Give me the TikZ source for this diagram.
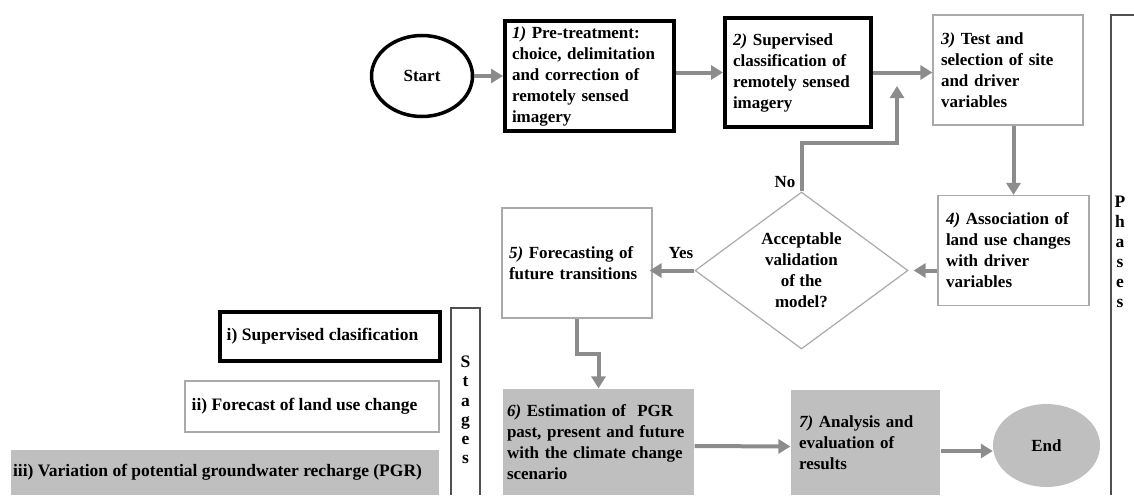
\documentclass[tikz,border=0pt]{standalone}
\usepackage{fontspec}
\setmainfont{Liberation Serif}
\usetikzlibrary{shapes.geometric,arrows.meta,calc}

\definecolor{flowgray}{RGB}{140,140,140}
\definecolor{fillgray}{RGB}{191,191,191}
\definecolor{boxgray}{RGB}{170,170,170}
\definecolor{framegray}{RGB}{80,80,80}
\hyphenpenalty=10000

\begin{document}
\begin{tikzpicture}[x=1pt,y=-1pt,
    font=\fontsize{17}{21}\selectfont\bfseries,
    procbox/.style={rectangle, draw=boxgray, line width=1.2pt, align=left,
        inner xsep=8pt, inner ysep=0pt},
    keybox/.style={procbox, draw=black, line width=4pt},
    shadebox/.style={procbox, draw=none, fill=fillgray},
    terminal/.style={ellipse, inner sep=0pt},
    decision/.style={diamond, draw=boxgray, line width=1.2pt, align=center,
        inner sep=0pt, aspect=1.36},
    legendbox/.style={rectangle, inner sep=0pt, align=center,
        font=\fontsize{17.5}{21}\selectfont\bfseries},
    frameline/.style={draw=framegray, line width=1.5pt},
    flow/.style={draw=flowgray, line width=4pt,
        -{Triangle[length=12pt,width=14pt]}}]

    \useasboundingbox (0,0) rectangle (1134,495);

    %----------------------------------------
    % PHASES (flow chart)
    %----------------------------------------
    \node[terminal, draw=black, line width=3.5pt,
          minimum width=101pt, minimum height=81pt] (start) at (422,76) {Start};

    \node[keybox, text width=155pt, inner xsep=7pt, minimum height=110pt]
        (s1) at (589.5,76)
        {\textit{1)} Pre-treatment:\\choice, delimitation\\and correction of\\remotely sensed\\imagery};
    \node[keybox, text width=130pt, minimum height=109pt] (s2) at (798,72.5)
        {\textit{2)} Supervised\\classification of\\remotely sensed\\imagery};
    \node[procbox, text width=134pt, minimum height=110pt] (s3) at (1008,70)
        {\textit{3)} Test and\\selection of site\\and driver\\variables};
    \node[procbox, text width=135pt, minimum height=110pt] (s4) at (1013.5,250.5)
        {\textit{4)} Association of\\land use changes\\with driver\\variables};
    \node[decision, minimum width=213pt, minimum height=157pt] (dec) at (801.5,270.5)
        {Acceptable\\validation\\of the\\model?};
    \node[procbox, text width=136pt, inner xsep=7pt, minimum height=110pt] (s5) at (577,263)
        {\textit{5)} Forecasting of\\future transitions};
    \node[shadebox, text width=183pt, inner xsep=4pt, minimum height=106pt] (s6) at (598.5,442)
        {\textit{6)} Estimation of~ PGR\\past, present and future\\with the climate change\\scenario};
    \node[shadebox, text width=133pt, minimum height=105pt] (s7) at (865.5,442.5)
        {\textit{7)} Analysis and\\evaluation of\\results};
    \node[terminal, fill=fillgray, minimum width=107pt, minimum height=83pt] (end) at (1046.5,445.5) {End};

    % answers of the test
    \node (nolbl) at (785,182) {No};
    \node (yeslbl) at (681,253) {Yes};
    \coordinate (nobend) at (897,143);
    \coordinate (notip) at (897,86);

    % connectors
    \draw[flow] (start.east) -- (s1.west);
    \draw[flow] (s1.east |- s2.west) -- (s2.west);
    \draw[flow] (s2.east) -- (s2.east -| s3.west);
    \draw[flow] (s4.north |- s3.south) -- (s4.north);
    \draw[flow] (s4.west |- dec.east) -- ([xshift=5pt]dec.east);
    \draw[flow] (dec.north) |- (nobend) -- (notip);
    \draw[flow, shorten >=-3pt] (dec.west) -- (dec.west -| s5.east);
    \draw[flow] (s5.south) |- ($(s5.south)!0.5!(s6.north)$) -| (s6.north);
    \draw[flow] ([yshift=-4pt]s6.east) -- ([yshift=-4pt]s7.west);
    \draw[flow] ([yshift=-8.5pt]s7.east) -- ([yshift=-5.5pt]end.west);

    % side frame
    \draw[frameline] (1111,495) |- (1134,15);
    \node[align=center, font=\fontsize{17.5}{20}\selectfont\bfseries] (phases) at (1120,252)
        {P\\h\\a\\s\\e\\s};

    %----------------------------------------
    % STAGES (key)
    %----------------------------------------
    \node[legendbox, draw=black, line width=4pt, minimum width=220pt, minimum height=49pt]
        (key1) at (330,336.5) {i) Supervised clasification\hspace*{15pt}};
    \node[legendbox, draw=boxgray, line width=1.2pt, minimum width=254pt, minimum height=51pt]
        (key2) at (312,406.5) {ii) Forecast of land use change\hspace*{15pt}};
    \node[legendbox, fill=fillgray, minimum width=428pt, minimum height=45pt]
        (key3) at (225,472.5) {iii) Variation of potential groundwater recharge (PGR)\hspace*{15pt}};

    \draw[frameline] (451,495) |- (480,308) -- (480,495);
    \node[align=center, font=\fontsize{17.5}{19.2}\selectfont\bfseries] (stages) at (465.5,410)
        {S\\t\\a\\g\\e\\s};

\end{tikzpicture}
\end{document}
